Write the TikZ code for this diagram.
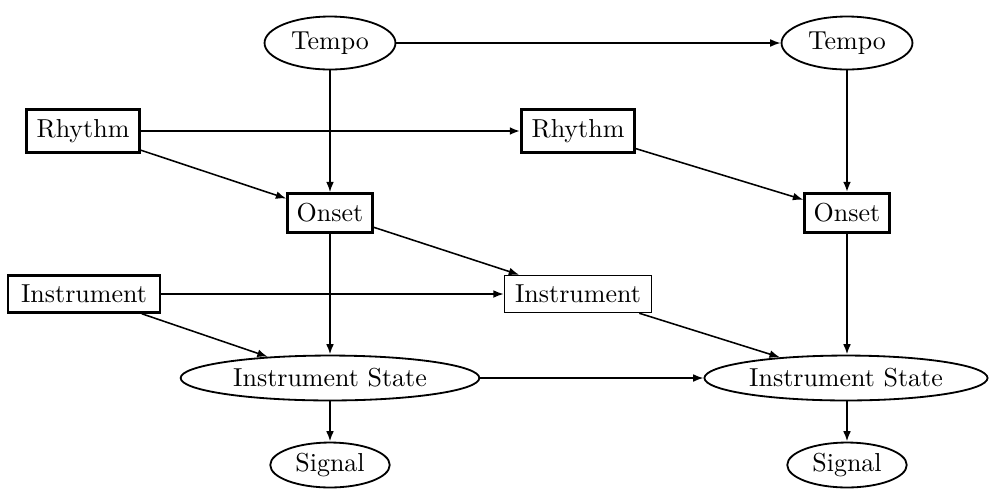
\documentclass[tikz,border=0pt]{standalone}
\usetikzlibrary{arrows.meta,shapes.geometric}
\begin{document}
\begin{tikzpicture}[x=0.385pt,y=-0.385pt,
  base/.style={draw,inner sep=0pt,font=\normalsize},
  ell/.style={base,ellipse,line width=0.7pt},
  box/.style={base,rectangle,line width=1pt},
  thinbox/.style={base,rectangle,line width=0.6pt},
  arr/.style={-{Latex[length=4pt,width=3pt]},line width=0.6pt},
  tarr/.style={-{Latex[length=4pt,width=3pt]},line width=1.1pt}]
\useasboundingbox (0,0) rectangle (989,491);
\node[ell,minimum width=50.4pt,minimum height=20.4pt] (t1) at (330,43) {Tempo};
\node[ell,minimum width=50.4pt,minimum height=20.4pt] (t2) at (847,43) {Tempo};
\node[box,minimum width=43.5pt,minimum height=16.5pt] (r1) at (83,131) {Rhythm};
\node[box,minimum width=43.5pt,minimum height=16.5pt] (r2) at (578,131) {Rhythm};
\node[box,minimum width=32.7pt,minimum height=15pt] (o1) at (330,213) {Onset};
\node[box,minimum width=32.7pt,minimum height=15pt] (o2) at (847,213) {Onset};
\node[box,minimum width=58.5pt,minimum height=14.2pt] (i1) at (84,294) {Instrument};
\node[thinbox,minimum width=56.6pt,minimum height=14.2pt] (i2) at (578,294) {Instrument};
\node[ell,minimum width=115pt,minimum height=17.3pt] (s1) at (330,378) {Instrument State};
\node[ell,minimum width=109pt,minimum height=17.3pt] (s2) at (846,378) {Instrument State};
\node[ell,minimum width=46pt,minimum height=17.3pt] (g1) at (330,465) {Signal};
\node[ell,minimum width=46pt,minimum height=17.3pt] (g2) at (847,465) {Signal};
\draw[arr] (t1) -- (t2);
\draw[arr] (t1) -- (o1);
\draw[tarr] (r1) -- (r2);
\draw[arr] (r1) -- (o1);
\draw[arr] (r2) -- (o2);
\draw[tarr] (t2) -- (o2);
\draw[arr] (o1) -- (i2);
\draw[tarr] (o1) -- (s1);
\draw[arr] (i1) -- (i2);
\draw[arr] (i1) -- (s1);
\draw[arr] (i2) -- (s2);
\draw[tarr] (o2.south) -- (o2.south |- s2.north);
\draw[arr] (s1) -- (s2);
\draw[tarr] (s1) -- (g1);
\draw[tarr] (g2.north |- s2.south) -- (g2);
\end{tikzpicture}
\end{document}
